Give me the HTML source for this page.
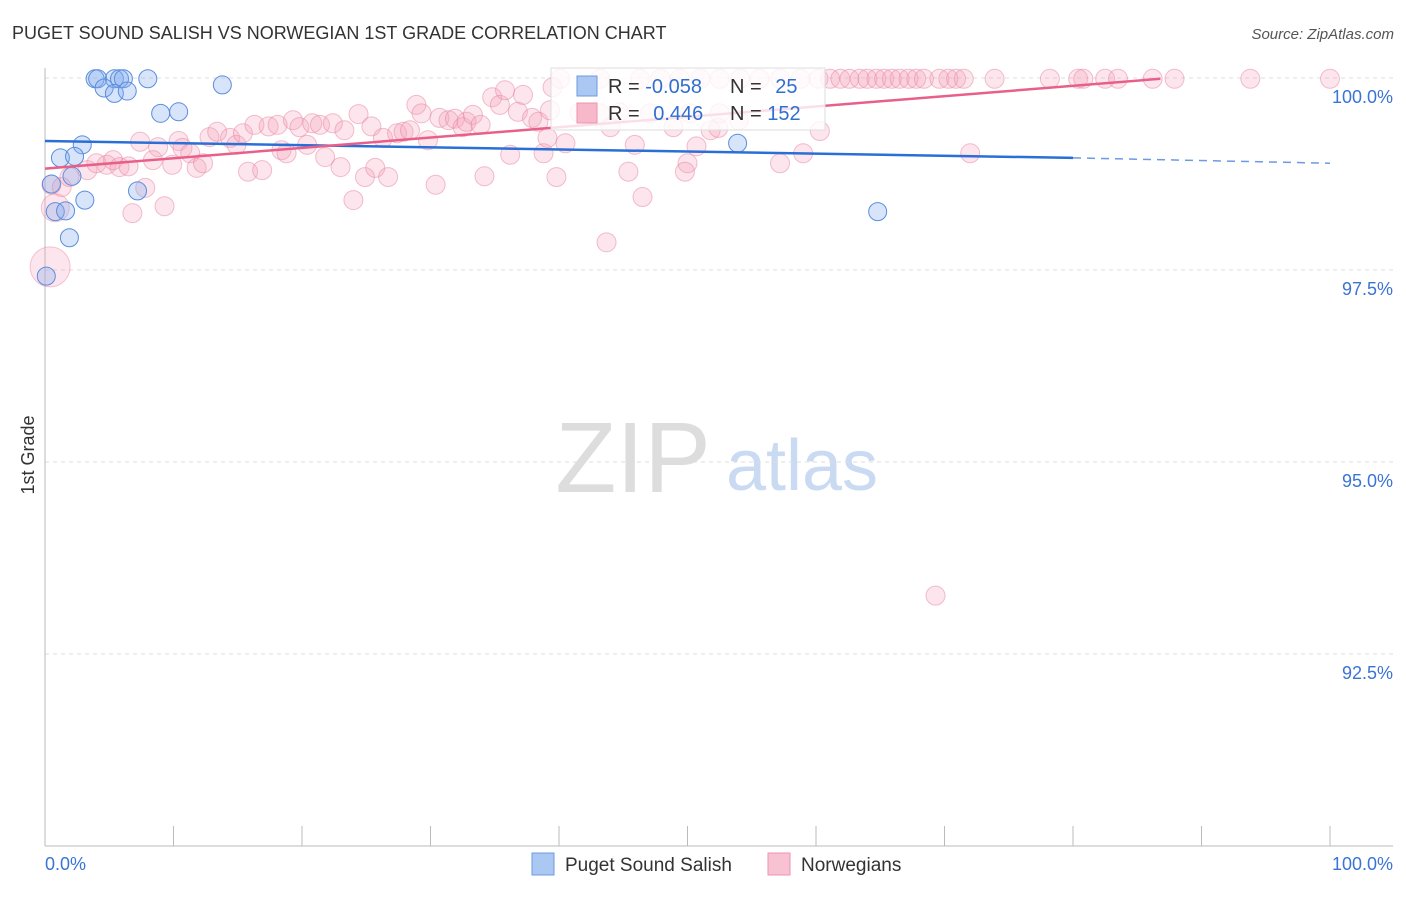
<!DOCTYPE html>
<html><head><meta charset="utf-8"><style>
body{margin:0;background:#fff;font-family:"Liberation Sans",sans-serif;}
svg text{font-family:"Liberation Sans",sans-serif;}
</style></head><body>
<svg id="chart" width="1406" height="892" xmlns="http://www.w3.org/2000/svg">
<text x="12" y="39" font-size="18" fill="#333">PUGET SOUND SALISH VS NORWEGIAN 1ST GRADE CORRELATION CHART</text>
<text x="1394" y="39" font-size="15" fill="#555" text-anchor="end" font-style="italic">Source: ZipAtlas.com</text>
<text x="633" y="492" font-size="100" fill="#ddd" text-anchor="middle" font-family="Liberation Serif, serif">ZIP</text>
<text x="802" y="490" font-size="72" fill="#c9daf2" text-anchor="middle">atlas</text>
<text transform="translate(34,455) rotate(-90)" font-size="18" fill="#333" text-anchor="middle">1st Grade</text>
<g id="grid"></g><g id="axes"></g><g id="marks"></g>
<g>
<rect x="551" y="68" width="274" height="62" fill="#fff" fill-opacity="0.8" stroke="#ddd"/>
<rect x="577" y="76" width="20" height="20" fill="#aac8f2" stroke="#6d9ae0"/>
<rect x="577" y="103" width="20" height="20" fill="#f7b8ca" stroke="#ec93ad"/>
<text x="608" y="93" font-size="20" fill="#333">R = <tspan fill="#2f6fd0">-0.058</tspan></text>
<text x="730" y="93" font-size="20" fill="#333">N = <tspan fill="#2f6fd0" dx="8">25</tspan></text>
<text x="608" y="120" font-size="20" fill="#333">R = <tspan fill="#2f6fd0" dx="8">0.446</tspan></text>
<text x="730" y="120" font-size="20" fill="#333">N = <tspan fill="#2f6fd0">152</tspan></text>
</g>
<g>
<rect x="532" y="853" width="22" height="22" fill="#aac8f2" stroke="#6d9ae0"/>
<text x="565" y="871" font-size="19" fill="#333">Puget Sound Salish</text>
<rect x="768" y="853" width="22" height="22" fill="#f7c3d2" stroke="#ec93ad"/>
<text x="801" y="871" font-size="19" fill="#333">Norwegians</text>
</g>
</svg>
<script>
const yTicks=[100,97.5,95,92.5];
const yTickLabels=["100.0%","97.5%","95.0%","92.5%"];
const xTickVals=[0,10,20,30,40,50,60,70,80,90,100];
const blueX=[3.9,4.1,5.4,5.8,6.1,8.0,4.6,5.4,6.4,13.8,9.0,10.4,2.9,1.2,2.3,0.5,2.1,7.2,3.1,0.8,1.6,1.9,0.1,53.9,64.8];
const blueY=[99.99,99.99,99.99,99.99,99.99,99.99,99.87,99.80,99.83,99.91,99.54,99.56,99.13,98.96,98.98,98.62,98.72,98.53,98.41,98.26,98.27,97.92,97.42,99.15,98.26];
const pinkX=[7.4,8.8,10.4,10.7,11.3,12.8,13.4,14.4,14.9,15.4,16.3,17.4,18.1,19.3,19.8,20.8,21.4,22.4,23.3,24.4,25.4,26.3,27.4,27.9,28.4,28.9,29.3,29.8,30.7,31.4,31.9,32.5,32.8,33.3,33.9,34.8,35.4,35.8,36.8,37.2,37.9,38.4,36.2,38.8,0.5,1.3,1.9,3.3,4.0,4.8,5.3,5.8,6.5,8.4,9.9,11.8,12.3,15.8,16.9,18.4,18.8,20.4,21.8,23.0,24.9,25.7,26.7,30.4,34.2,24.0,7.8,6.8,9.3,39.5,39.3,39.1,40.5,39.8,44.0,45.9,45.4,46.5,43.7,50.0,51.8,59.0,48.9,50.7,52.4,54.0,60.3,57.2,72.0,69.3,49.8,41.6,44.7,43.2,47.1,50.2,52.5,
40.1,43.2,46.3,47.9,49.4,51.0,52.5,54.1,55.6,57.2,58.8,60.2,61.1,61.9,62.6,63.4,64.0,64.7,65.3,65.9,66.5,67.2,67.8,68.4,69.6,70.3,70.9,71.5,73.9,78.2,80.4,80.8,82.5,83.5,86.2,87.9,93.8,100];
const pinkY=[99.17,99.10,99.18,99.09,99.02,99.23,99.30,99.22,99.13,99.28,99.39,99.37,99.39,99.45,99.36,99.41,99.39,99.41,99.32,99.53,99.37,99.22,99.28,99.30,99.32,99.65,99.54,99.19,99.48,99.45,99.47,99.36,99.43,99.52,99.39,99.75,99.65,99.84,99.56,99.78,99.48,99.43,99.00,99.02,98.61,98.58,98.71,98.80,98.89,98.87,98.93,98.84,98.85,98.93,98.87,98.83,98.89,98.78,98.80,99.06,99.02,99.13,98.97,98.84,98.71,98.83,98.71,98.61,98.72,98.41,98.57,98.24,98.33,99.88,99.58,99.22,99.15,98.71,99.36,99.13,98.78,98.45,97.86,98.89,99.32,99.02,99.36,99.11,99.35,99.45,99.31,98.89,99.02,93.26,98.78,99.55,99.55,99.54,99.54,99.54,99.54,
99.99,99.99,99.99,99.99,99.99,99.99,99.99,99.99,99.99,99.99,99.99,99.99,99.99,99.99,99.99,99.99,99.99,99.99,99.99,99.99,99.99,99.99,99.99,99.99,99.99,99.99,99.99,99.99,99.99,99.99,99.99,99.99,99.99,99.99,99.99,99.99,99.99,99.99];
const pinkBigX=[0.4,0.8];
const pinkBigY=[97.54,98.31];
const pinkBigR=[20,14];
const blueTrend=[[0,99.18],[80,98.96],[100,98.89]];
const pinkTrend=[[0,98.82],[86.8,99.99]];

const X0=45,X1=1330,YTOP=78,YPX=76.8;
const sx=v=>X0+(v/100)*(X1-X0);
const sy=v=>YTOP+(100-v)*YPX;
const NS="http://www.w3.org/2000/svg";
function mk(tag,attrs,parent){const e=document.createElementNS(NS,tag);for(const k in attrs)e.setAttribute(k,attrs[k]);parent.appendChild(e);return e;}
const grid=document.getElementById('grid'),axes=document.getElementById('axes'),marks=document.getElementById('marks');
yTicks.forEach((t,i)=>{
 const l=mk('line',{x1:X0,x2:1393,y1:sy(t),y2:sy(t),stroke:'#ddd','stroke-dasharray':'4,4'},grid);
 
 
 const tx=mk('text',{x:1393,y:sy(t)+25,'font-size':18,fill:'#3a74d4','text-anchor':'end'},axes);
 tx.textContent=yTickLabels[i];
 
 
});
const ax=mk('line',{x1:X0,x2:X0,y1:68,y2:846,stroke:'#bbb'},axes);


const bx=mk('line',{x1:X0,x2:1393,y1:846,y2:846,stroke:'#bbb'},axes);


xTickVals.forEach(v=>{
 const t=mk('line',{x1:sx(v),x2:sx(v),y1:826,y2:846,stroke:'#bbb'},axes);
 
 
});
const xl0=mk('text',{x:45,y:870,'font-size':18,fill:'#3a74d4'},axes);xl0.textContent='0.0%';


const xl1=mk('text',{x:1393,y:870,'font-size':18,fill:'#3a74d4','text-anchor':'end'},axes);xl1.textContent='100.0%';



pinkX.forEach((v,i)=>{
 const c=mk('circle',{cx:sx(v),cy:sy(pinkY[i]),r:9.5,fill:'rgba(244,160,186,0.28)',stroke:'rgba(232,130,160,0.5)','stroke-width':1},marks);
 
 
});
pinkBigX.forEach((v,i)=>{
 const c=mk('circle',{cx:sx(v),cy:sy(pinkBigY[i]),r:pinkBigR[i],fill:'rgba(244,160,186,0.28)',stroke:'rgba(232,130,160,0.45)'},marks);
 
 
});
blueX.forEach((v,i)=>{
 const c=mk('circle',{cx:sx(v),cy:sy(blueY[i]),r:9,fill:'rgba(130,172,238,0.32)',stroke:'#5a8edd','stroke-width':1},marks);
 
 
});
const bt1=mk('line',{x1:sx(blueTrend[0][0]),y1:sy(blueTrend[0][1]),x2:sx(blueTrend[1][0]),y2:sy(blueTrend[1][1]),stroke:'#2a6fd6','stroke-width':2.5},marks);


const bt2=mk('line',{x1:sx(blueTrend[1][0]),y1:sy(blueTrend[1][1]),x2:sx(blueTrend[2][0]),y2:sy(blueTrend[2][1]),stroke:'#6d9ae0','stroke-width':1.5,'stroke-dasharray':'8,6'},marks);


const pt=mk('line',{x1:sx(pinkTrend[0][0]),y1:sy(pinkTrend[0][1]),x2:sx(pinkTrend[1][0]),y2:sy(pinkTrend[1][1]),stroke:'#e8608a','stroke-width':2.5},marks);


</script>
</body></html>
